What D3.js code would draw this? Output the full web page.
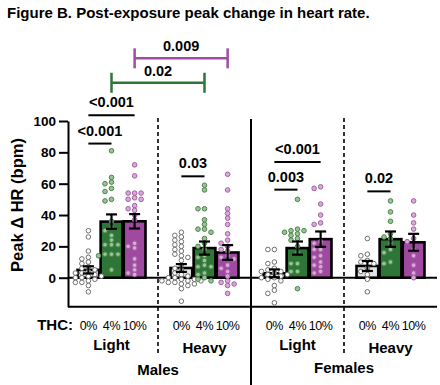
<!DOCTYPE html>
<html>
<head>
<meta charset="utf-8">
<script src="https://cdn.jsdelivr.net/npm/d3@7"></script>
<style>
  body { margin: 0; background: #fff; }
  svg { font-family: "Liberation Sans", Arial, sans-serif; }
</style>
</head>
<body>
<svg id="chart" width="440" height="385"></svg>
<script>
const width = 440
const height = 385

const groups = ['Males Light', 'Males Heavy', 'Females Light', 'Females Heavy']
const doses = ['0%', '4%', '10%']
const yTicks = [0, 20, 40, 60, 80, 100]

// bar means and sem, per group, per dose
const means = [[5, 35.8, 36], [6.2, 18.9, 16.1], [2.8, 18.9, 24.6], [7.5, 24.6, 22.6]]
const sems = [[2.3, 4.6, 4.6], [2.5, 4.2, 4.7], [2.5, 4.2, 4.9], [3.2, 4.9, 5.4]]

// individual animals
const malesLight0 = [30, 26, 17, 13, 12, 10, 9, 7, 6, 5, 4, 3, 3, 2, 1, 1, 0, 0, -1, -2, -3, -3, -5, -9]
const malesLight4 = [81, 64, 61, 60, 57, 55, 50, 49, 36, 32, 30, 27, 24, 21, 21, 21, 15, 15, 15, 14, 5]
const malesLight10 = [72, 65, 54, 54, 54, 51, 50, 50, 46, 44, 43, 40, 37, 22, 20, 19, 12, 8, 5, 3, 2]
const malesHeavy0 = [29, 27, 26, 24, 23, 21, 20, 18, 17, 15, 14, 13, 11, 8, 6, 5, 3, 2, 1, 0, 0, -1, -1, -2, -2, -2, -3, -3, -4, -4, -5, -7, -15]
const malesHeavy4 = [59, 56, 44, 44, 37, 34, 31, 31, 29, 25, 22, 20, 18, 14, 13, 11, 8, 7, 7, 3, 2, 0, -1, -2]
const malesHeavy10 = [66, 56, 44, 41, 38, 34, 28, 24, 22, 20, 18, 17, 14, 13, 12, 8, 6, 4, 1, -2, -3, -4, -5, -10]
const femalesLight0 = [18, 18, 10, 9, 6, 5, 4, 4, 3, 2, 2, 1, 0, 0, -1, -2, -5, -8, -10, -16]
const femalesLight4 = [50, 31, 30, 30, 29, 28, 27, 25, 24, 20, 16, 9, 9, 4, 4, -7]
const femalesLight10 = [58, 57, 47, 40, 35, 34, 23, 22, 18, 18, 14, 13, 10, 8, 7, 4, 3]
const femalesHeavy0 = [25, 15, 14, 11, 10, 9, 6, 4, 2, -1, -9]
const femalesHeavy4 = [49, 42, 36, 28, 26, 25, 22, 18, 16, 10, 9]
const femalesHeavy10 = [49, 40, 35, 31, 25, 23, 18, 14, 8, 3, 0]

const points = [
  [malesLight0, malesLight4, malesLight10],
  [malesHeavy0, malesHeavy4, malesHeavy10],
  [femalesLight0, femalesLight4, femalesLight10],
  [femalesHeavy0, femalesHeavy4, femalesHeavy10]
]

// within-group comparisons
const sigLines = [
  {group: 'Males Light', a: '0%', b: '10%', label: '<0.001', level: 103.7},
  {group: 'Males Light', a: '0%', b: '4%', label: '<0.001', level: 85.6},
  {group: 'Males Heavy', a: '0%', b: '4%', label: '0.03', level: 64.7},
  {group: 'Females Light', a: '0%', b: '10%', label: '<0.001', level: 73.9},
  {group: 'Females Light', a: '0%', b: '4%', label: '0.003', level: 56.2},
  {group: 'Females Heavy', a: '0%', b: '4%', label: '0.02', level: 55.1}
]
// light vs heavy comparisons
const brackets = [
  {from: 'Males Light', to: 'Males Heavy', dose: '10%', label: '0.009', level: 140},
  {from: 'Males Light', to: 'Males Heavy', dose: '4%', label: '0.02', level: 124.4}
]

const barFill = {'0%': '#e3e3e3', '4%': '#2e7636', '10%': '#a049a1'}
const dotFill = {'0%': '#ffffff', '4%': '#95c595', '10%': '#dda6dc'}
const dotStroke = {'0%': '#6f6f6f', '4%': '#4f824f', '10%': '#a062a0'}
const bracketColor = {'4%': '#2e7636', '10%': '#a24ba3'}

const svg = d3.select('svg#chart')

const x0 = d3.scaleBand().domain(groups).range([65, 437])
const x1 = d3.scaleBand().domain(doses).range([12.5, 80.5]).paddingInner(0.06)
const y = d3.scaleLinear().domain([-18.5, 100]).range([306.7, 121])

const cx = (g, d) => x0(g) + x1(d) + x1.bandwidth() / 2

// title
svg.append('text')
  .attr('x', 7).attr('y', 18)
  .attr('font-size', 15).attr('font-weight', 'bold')
  .text('Figure B. Post-exposure peak change in heart rate.')

// y axis
const yAxis = svg.append('g')
  .attr('transform', 'translate(68,0)')
  .call(d3.axisLeft(y).tickValues(yTicks).tickSize(9).tickSizeOuter(0).tickPadding(3))
yAxis.select('.domain').attr('stroke-width', 2)
yAxis.selectAll('.tick line').attr('stroke-width', 2)
yAxis.selectAll('.tick text')
  .attr('font-size', 13.5).attr('font-weight', 'bold')
  .attr('font-family', '"Liberation Sans", Arial, sans-serif').attr('fill', '#000')

svg.append('text')
  .attr('transform', 'translate(23,205) rotate(-90)')
  .attr('text-anchor', 'middle')
  .attr('font-size', 16.5).attr('font-weight', 'bold')
  .text('Peak Δ HR (bpm)')

// zero line and bottom axis
svg.append('line')
  .attr('x1', 68).attr('x2', 437).attr('y1', y(0)).attr('y2', y(0))
  .attr('stroke', '#000').attr('stroke-width', 2)
svg.append('line')
  .attr('x1', 68).attr('x2', 437).attr('y1', y(-18.5)).attr('y2', y(-18.5))
  .attr('stroke', '#000').attr('stroke-width', 2)

// separators
svg.append('line')
  .attr('x1', x0('Females Light')).attr('x2', x0('Females Light'))
  .attr('y1', 119).attr('y2', 385)
  .attr('stroke', '#000').attr('stroke-width', 2)
for (const g of ['Males Heavy', 'Females Heavy']) {
  svg.append('line')
    .attr('x1', x0(g)).attr('x2', x0(g))
    .attr('y1', 118).attr('y2', 353)
    .attr('stroke', '#000').attr('stroke-width', 1.6)
    .attr('stroke-dasharray', '4,3')
}

// bars
const barData = []
groups.forEach((g, gi) => doses.forEach((d, di) => {
  barData.push({group: g, dose: d, mean: means[gi][di], sem: sems[gi][di], values: points[gi][di]})
}))

svg.append('g').selectAll('rect').data(barData).enter().append('rect')
  .attr('x', d => x0(d.group) + x1(d.dose))
  .attr('width', x1.bandwidth())
  .attr('y', d => y(d.mean))
  .attr('height', d => y(0) - y(d.mean))
  .attr('fill', d => barFill[d.dose])
  .attr('stroke', '#000').attr('stroke-width', 2.6)

// dots, simple beeswarm
const r = 2.3
const colStep = 6.5
const minGap = 4.5
const dots = []
for (const b of barData) {
  const placed = []
  const sorted = [...b.values].sort((a, c) => c - a)
  for (const v of sorted) {
    const py = y(v)
    let k = 0
    let off = 0
    while (true) {
      off = (k === 0) ? 0 : (k % 2 === 1 ? -1 : 1) * Math.ceil(k / 2) * colStep
      if (!placed.some(p => p.off === off && Math.abs(p.py - py) < minGap)) break
      k++
    }
    placed.push({off: off, py: py})
    dots.push({dose: b.dose, x: cx(b.group, b.dose) + off, y: py})
  }
}
svg.append('g').selectAll('circle').data(dots).enter().append('circle')
  .attr('cx', d => d.x).attr('cy', d => d.y).attr('r', r)
  .attr('fill', d => dotFill[d.dose])
  .attr('stroke', d => dotStroke[d.dose]).attr('stroke-width', 1)

// error bars
const eb = svg.append('g').attr('stroke', '#000').attr('stroke-width', 2.2)
for (const b of barData) {
  const c = cx(b.group, b.dose)
  eb.append('line').attr('x1', c).attr('x2', c)
    .attr('y1', y(b.mean - b.sem)).attr('y2', y(b.mean + b.sem))
  for (const v of [b.mean - b.sem, b.mean + b.sem]) {
    eb.append('line').attr('x1', c - 5.5).attr('x2', c + 5.5).attr('y1', y(v)).attr('y2', y(v))
  }
}

// significance lines
for (const s of sigLines) {
  const xa = cx(s.group, s.a)
  const xb = cx(s.group, s.b)
  svg.append('line')
    .attr('x1', xa).attr('x2', xb).attr('y1', y(s.level)).attr('y2', y(s.level))
    .attr('stroke', '#000').attr('stroke-width', 2)
  svg.append('text')
    .attr('x', (xa + xb) / 2).attr('y', y(s.level) - 8)
    .attr('text-anchor', 'middle')
    .attr('font-size', 14.5).attr('font-weight', 'bold')
    .text(s.label)
}

for (const br of brackets) {
  const xa = cx(br.from, br.dose)
  const xb = cx(br.to, br.dose)
  const yy = y(br.level)
  const col = bracketColor[br.dose]
  const gb = svg.append('g').attr('stroke', col).attr('stroke-width', 2.5)
  gb.append('line').attr('x1', xa).attr('x2', xb).attr('y1', yy).attr('y2', yy)
  gb.append('line').attr('x1', xa).attr('x2', xa).attr('y1', yy - 10).attr('y2', yy + 10)
  gb.append('line').attr('x1', xb).attr('x2', xb).attr('y1', yy - 10).attr('y2', yy + 10)
  svg.append('text')
    .attr('x', (xa + xb) / 2).attr('y', yy - 7)
    .attr('text-anchor', 'middle')
    .attr('font-size', 14.5).attr('font-weight', 'bold')
    .text(br.label)
}

// x labels
svg.append('text')
  .attr('x', 73).attr('y', 330)
  .attr('text-anchor', 'end')
  .attr('font-size', 15).attr('font-weight', 'bold')
  .text('THC:')

for (const b of barData) {
  svg.append('text')
    .attr('x', cx(b.group, b.dose)).attr('y', 330)
    .attr('text-anchor', 'middle')
    .attr('font-size', 12.5)
    .attr('letter-spacing', -0.4)
    .text(b.dose)
}

for (const g of groups) {
  const heavy = g.endsWith('Heavy')
  svg.append('text')
    .attr('x', x0(g) + x0.bandwidth() / 2).attr('y', heavy ? 353 : 350)
    .attr('text-anchor', 'middle')
    .attr('font-size', 15).attr('font-weight', 'bold')
    .text(heavy ? 'Heavy' : 'Light')
}

svg.append('text')
  .attr('x', x0('Males Heavy')).attr('y', 375)
  .attr('text-anchor', 'middle')
  .attr('font-size', 15).attr('font-weight', 'bold')
  .text('Males')
svg.append('text')
  .attr('x', x0('Females Heavy')).attr('y', 373)
  .attr('text-anchor', 'middle')
  .attr('font-size', 15).attr('font-weight', 'bold')
  .text('Females')
</script>
</body>
</html>
